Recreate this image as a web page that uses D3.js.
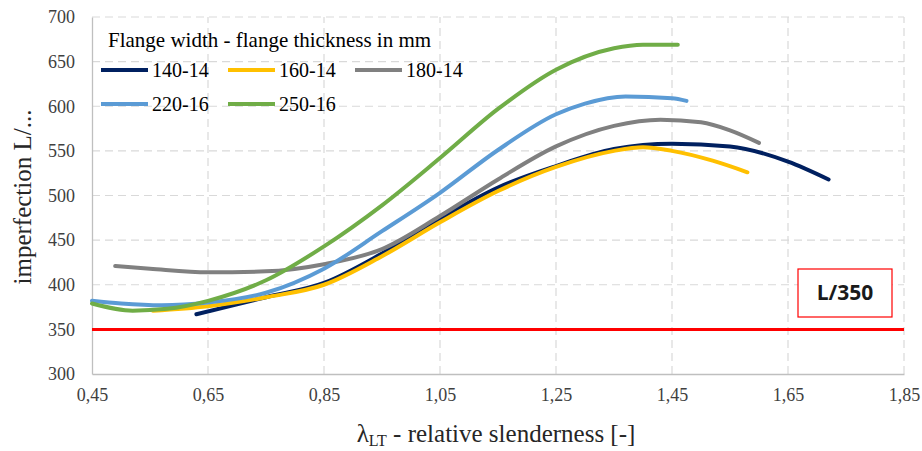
<html>
<head>
<script src="https://d3js.org/d3.v7.min.js"></script>
<style>
body { margin: 0; background: #fff; }
</style>
</head>
<body>
<script>
// data: [slenderness, imperfection L/...]
var s140 = [[0.63,367],[0.70,378],[0.75,386],[0.85,402],[0.95,435],[1.05,474],[1.15,509],[1.25,533],[1.35,552],[1.45,558],[1.55,555],[1.65,538],[1.72,518]];
var s160 = [[0.555,371],[0.65,376],[0.75,386],[0.85,400],[0.95,432],[1.05,470],[1.15,505],[1.25,532],[1.35,550],[1.40,554],[1.45,550],[1.52,539],[1.58,526]];
var s180 = [[0.49,421],[0.55,418],[0.65,414],[0.75,415],[0.85,423],[0.95,440],[1.05,477],[1.15,518],[1.25,555],[1.35,578],[1.43,585],[1.50,582],[1.55,573],[1.60,559]];
var s220 = [[0.45,382],[0.50,379],[0.57,377],[0.65,380],[0.75,391],[0.85,418],[0.95,460],[1.05,503],[1.15,551],[1.25,591],[1.30,603],[1.37,611],[1.45,609],[1.475,606]];
var s250 = [[0.45,379],[0.52,371],[0.58,373],[0.65,382],[0.75,405],[0.85,443],[0.95,489],[1.05,542],[1.15,597],[1.25,641],[1.35,665],[1.40,669],[1.46,669]];

var names = ["140-14", "160-14", "180-14", "220-16", "250-16"];
var colors = ["#002060", "#FFC000", "#808080", "#5B9BD5", "#70AD47"];
var xTicks = [0.45, 0.65, 0.85, 1.05, 1.25, 1.45, 1.65, 1.85];
var yTicks = [300, 350, 400, 450, 500, 550, 600, 650, 700];
var limit = 350;

var series = [s140, s160, s180, s220, s250];

var serif = "'Liberation Serif', 'Times New Roman', 'DejaVu Serif', serif";
var W = 922, H = 451;
var margin = {top: 17, right: 18, bottom: 77, left: 92};

var svg = d3.select("body").append("svg")
    .attr("width", W)
    .attr("height", H)
    .style("font-family", serif);

var x = d3.scaleLinear().domain([0.45, 1.85]).range([margin.left, W - margin.right]);
var y = d3.scaleLinear().domain([300, 700]).range([H - margin.bottom, margin.top]);

// grid
svg.append("g").selectAll("line").data(yTicks.slice(1)).enter().append("line")
    .attr("x1", x(0.45)).attr("x2", x(1.85))
    .attr("y1", function(d) { return y(d); }).attr("y2", function(d) { return y(d); })
    .attr("stroke", "#d9d9d9").attr("stroke-width", 1.2).attr("stroke-dasharray", "8,5");
svg.append("g").selectAll("line").data(xTicks.slice(1)).enter().append("line")
    .attr("x1", function(d) { return x(d); }).attr("x2", function(d) { return x(d); })
    .attr("y1", y(300)).attr("y2", y(700))
    .attr("stroke", "#d9d9d9").attr("stroke-width", 1.2).attr("stroke-dasharray", "8,5");

// axes
var xAxis = svg.append("g")
    .attr("transform", "translate(0," + y(300) + ")")
    .call(d3.axisBottom(x).tickValues(xTicks).tickSize(0).tickPadding(14)
      .tickFormat(function(d) { return d3.format(".2f")(d).replace(".", ","); }));
var yAxis = svg.append("g")
    .attr("transform", "translate(" + x(0.45) + ",0)")
    .call(d3.axisLeft(y).tickValues(yTicks).tickSize(0).tickPadding(17));
[xAxis, yAxis].forEach(function(a) {
  a.attr("font-family", null);
  a.select(".domain").attr("stroke", "#bfbfbf").attr("stroke-width", 1.3);
  a.selectAll("text").style("font-family", serif).style("font-size", "18px").attr("fill", "#404040");
});

// L/350 line
svg.append("line")
    .attr("x1", x(0.45)).attr("x2", x(1.85))
    .attr("y1", y(limit)).attr("y2", y(limit))
    .attr("stroke", "#ff0000").attr("stroke-width", 3);

// curves
var line = d3.line()
    .x(function(d) { return x(d[0]); })
    .y(function(d) { return y(d[1]); })
    .curve(d3.curveMonotoneX);

series.forEach(function(s, i) {
  svg.append("path")
      .datum(s)
      .attr("d", line)
      .attr("fill", "none")
      .attr("stroke", colors[i])
      .attr("stroke-width", 4)
      .attr("stroke-linecap", "round");
});

// legend
svg.append("text")
    .attr("x", 108).attr("y", 47)
    .style("font-size", "21px").attr("fill", "#000")
    .text("Flange width - flange thickness in mm");
var legPos = [[101, 70], [228, 70], [355, 70], [101, 104], [228, 104]];
names.forEach(function(n, i) {
  var p = legPos[i];
  svg.append("line")
      .attr("x1", p[0]).attr("x2", p[0] + 47)
      .attr("y1", p[1]).attr("y2", p[1])
      .attr("stroke", colors[i]).attr("stroke-width", 4);
  svg.append("text")
      .attr("x", p[0] + 51).attr("y", p[1] + 7)
      .style("font-size", "20px").attr("fill", "#000")
      .text(n);
});

// L/350 box
svg.append("rect")
    .attr("x", 798).attr("y", 269).attr("width", 94).attr("height", 48)
    .attr("fill", "#fff").attr("stroke", "#ff0000").attr("stroke-width", 1.2);
svg.append("text")
    .attr("x", 845).attr("y", 300)
    .attr("text-anchor", "middle")
    .style("font-family", "'Open Sans', 'Liberation Sans', Arial, sans-serif")
    .style("font-weight", "bold").style("font-size", "21px").attr("fill", "#1a1a1a")
    .text("L/350");

// axis titles
var xt = svg.append("text")
    .attr("x", 496).attr("y", 442)
    .attr("text-anchor", "middle")
    .style("font-size", "25px").attr("fill", "#262626");
xt.append("tspan").text("λ");
xt.append("tspan").style("font-size", "16px").attr("dy", 4).text("LT");
xt.append("tspan").attr("dy", -4).text(" - relative slenderness [-]");

svg.append("text")
    .attr("transform", "translate(31,197) rotate(-90)")
    .attr("text-anchor", "middle")
    .style("font-size", "25px").attr("fill", "#262626")
    .text("imperfection L/...");
</script>
</body>
</html>
